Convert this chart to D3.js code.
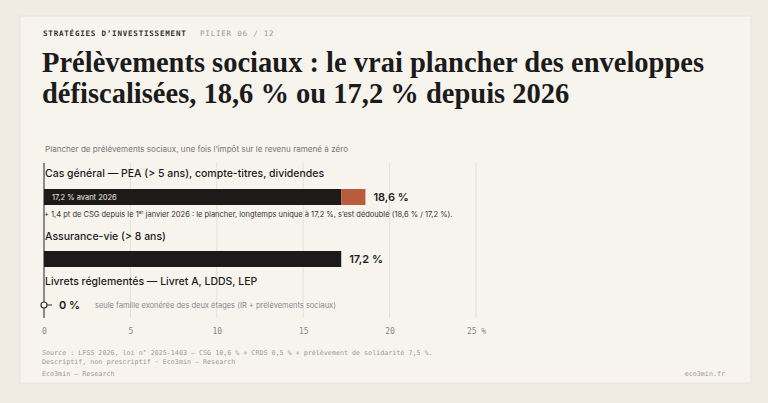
<!DOCTYPE html>
<html><head><meta charset="utf-8">
<script src="https://cdn.jsdelivr.net/npm/d3@7"></script>
<style>body{margin:0;background:#f0ece4;}svg{display:block}</style></head>
<body><svg id="c" width="768" height="403"></svg>
<script>
const categories = ["Cas général — PEA (> 5 ans), compte-titres, dividendes","Assurance-vie (> 8 ans)","Livrets réglementés — Livret A, LDDS, LEP"];
const baseValues = [17.2, 17.2, 0];
const addValues = [1.4, 0, 0];
const valueLabels = ["18,6 %","17,2 %","0 %"];
const ticks = [0,5,10,15,20,25];

const svg = d3.select("#c");
svg.append("rect").attr("x",20).attr("y",16).attr("width",731).attr("height",367).attr("fill","#f7f4ee").attr("stroke","#e8e3d9");
const mono = "DejaVu Sans Mono, monospace";
svg.append("text").attr("x",43).attr("y",36).attr("font-family",mono).attr("font-size",7.5).attr("font-weight","bold").attr("letter-spacing",0.8).attr("fill","#333").text("STRATÉGIES D’INVESTISSEMENT");
svg.append("text").attr("x",200).attr("y",36).attr("font-family",mono).attr("font-size",7.5).attr("letter-spacing",0.8).attr("fill","#999").text("PILIER 06 / 12");
const t = svg.append("text").attr("font-family","Liberation Serif, serif").attr("font-size",28.5).attr("font-weight","bold").attr("fill","#1b1b1b");
t.append("tspan").attr("x",42).attr("y",72).text("Prélèvements sociaux : le vrai plancher des enveloppes");
t.append("tspan").attr("x",42).attr("y",103).text("défiscalisées, 18,6 % ou 17,2 % depuis 2026");
svg.append("text").attr("x",45).attr("y",152).attr("font-family","Inter, sans-serif").attr("font-size",8.1).attr("fill","#777").text("Plancher de prélèvements sociaux, une fois l’impôt sur le revenu ramené à zéro");

const x = d3.scaleLinear().domain([0,25]).range([44,476]);
const rowY = [189, 251, 305];
const labY = [177, 240, 285];
const g = svg.append("g");
ticks.forEach(v=>{ if(v>0) g.append("line").attr("x1",x(v)).attr("x2",x(v)).attr("y1",163).attr("y2",318).attr("stroke","#e6e0d4"); });
g.append("line").attr("x1",x(0)).attr("x2",x(0)).attr("y1",163).attr("y2",318).attr("stroke","#444").attr("stroke-width",1.2);
const ax = svg.append("g").attr("transform","translate(0,320)").call(d3.axisBottom(x).tickValues(ticks).tickSize(0).tickPadding(8).tickFormat(d=>d===25?"25 %":d));
ax.select(".domain").remove();
ax.selectAll("text").attr("font-family",mono).attr("font-size",8).attr("fill","#888");

categories.forEach((c,i)=>{
  svg.append("text").attr("x",45).attr("y",labY[i]).attr("font-family","Inter, sans-serif").attr("font-size",10.5).attr("font-weight",500).attr("fill","#1b1b1b").text(c);
});
[0,1].forEach(i=>{
  svg.append("rect").attr("x",x(0)).attr("y",rowY[i]).attr("width",x(baseValues[i])-x(0)).attr("height",16).attr("fill","#1c1b1a");
  if(addValues[i]>0) svg.append("rect").attr("x",x(baseValues[i])).attr("y",rowY[i]).attr("width",x(baseValues[i]+addValues[i])-x(baseValues[i])).attr("height",16).attr("fill","#b85c3c");
  svg.append("text").attr("x",x(baseValues[i]+addValues[i])+8).attr("y",rowY[i]+12).attr("font-family","Inter, sans-serif").attr("font-size",11).attr("font-weight",600).attr("fill","#1b1b1b").text(valueLabels[i]);
});
svg.append("text").attr("x",52).attr("y",rowY[0]+11).attr("font-family","Inter, sans-serif").attr("font-size",7.5).attr("fill","#f0ece4").text("17,2 % avant 2026");
const n = svg.append("text").attr("x",44).attr("y",217).attr("font-family","Inter, sans-serif").attr("font-size",7.5).attr("fill","#333");
n.append("tspan").text("+ 1,4 pt de CSG depuis le 1");
n.append("tspan").attr("font-size",5).attr("dy",-3).text("er");
n.append("tspan").attr("dy",3).text(" janvier 2026 : le plancher, longtemps unique à 17,2 %, s’est dédoublé (18,6 % / 17,2 %).");
svg.append("line").attr("x1",x(0)).attr("x2",x(0)+8).attr("y1",rowY[2]).attr("y2",rowY[2]).attr("stroke","#333");
svg.append("circle").attr("cx",x(baseValues[2])).attr("cy",rowY[2]).attr("r",3).attr("fill","#f7f4ee").attr("stroke","#333").attr("stroke-width",1.2);
svg.append("text").attr("x",x(0)+15).attr("y",rowY[2]+4).attr("font-family","Inter, sans-serif").attr("font-size",11).attr("font-weight",600).attr("fill","#1b1b1b").text(valueLabels[2]);
svg.append("text").attr("x",95).attr("y",rowY[2]+3).attr("font-family","Inter, sans-serif").attr("font-size",7.5).attr("fill","#888").text("seule famille exonérée des deux étages (IR + prélèvements sociaux)");

const f = svg.append("g").attr("font-family",mono).attr("font-size",6.7).attr("fill","#999");
f.append("text").attr("x",42).attr("y",355).text("Source : LFSS 2026, loi n° 2025-1403 — CSG 10,6 % + CRDS 0,5 % + prélèvement de solidarité 7,5 %.");
f.append("text").attr("x",42).attr("y",364).text("Descriptif, non prescriptif · Eco3min — Research");
f.append("text").attr("x",42).attr("y",376).text("Eco3min — Research");
f.append("text").attr("x",725).attr("y",376).attr("text-anchor","end").text("eco3min.fr");
</script></body></html>
